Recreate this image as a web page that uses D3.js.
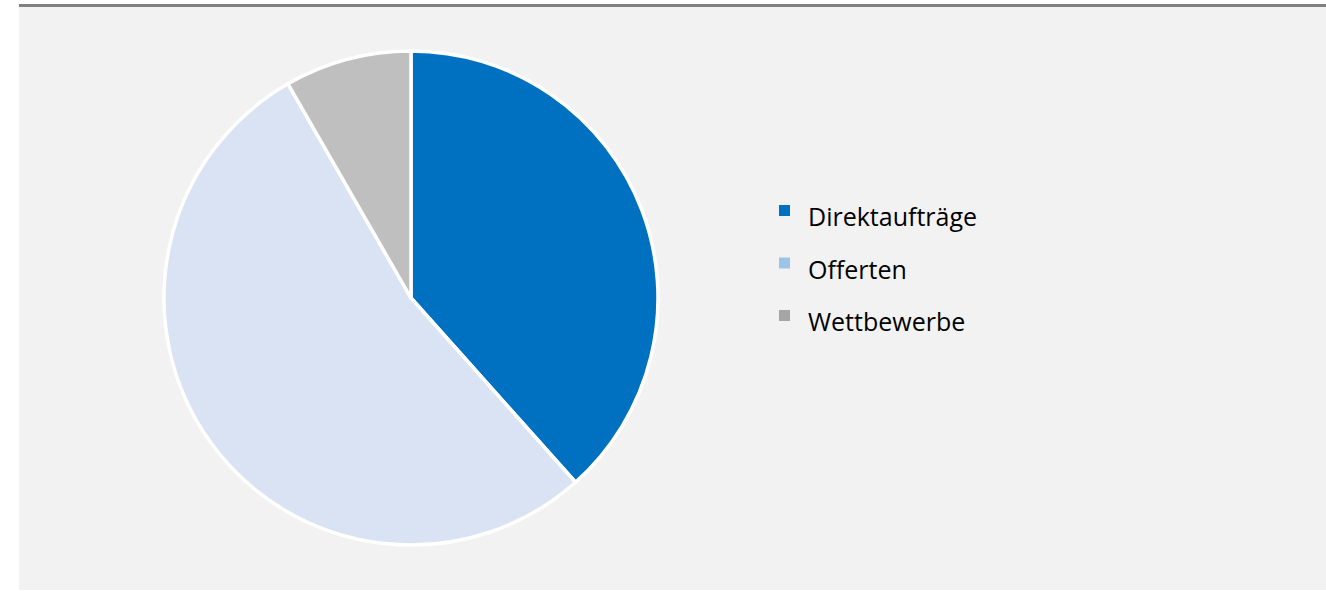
<!DOCTYPE html>
<html lang="de">
<head>
<meta charset="UTF-8">
<script src="https://d3js.org/d3.v7.min.js"></script>
<title>Vergabearten</title>
<style>
  body { margin: 0; background: #fff; }
  svg { display: block; }
</style>
</head>
<body>
<div id="chart"></div>
<script>
  // data
  var categories = ["Direktaufträge", "Offerten", "Wettbewerbe"];
  var shares = [38.4, 53.3, 8.3];
  var sliceColors = ["#0070c0", "#dae3f3", "#bfbfbf"];
  var legendColors = ["#0070c0", "#9dc3e6", "#a5a5a5"];

  var width = 1326, height = 591;

  var svg = d3.select("#chart").append("svg")
      .attr("width", width).attr("height", height);

  // panel + top rule
  svg.append("rect").attr("x", 19).attr("y", 4).attr("width", width - 19).attr("height", height - 5)
      .attr("fill", "#f2f2f2");
  svg.append("rect").attr("x", 19).attr("y", 4).attr("width", width - 19).attr("height", 3)
      .attr("fill", "#808080");

  var cx = 411, cy = 298, r = 247;

  var pie = d3.pie().sort(null).value(function(d) { return d; });
  var arc = d3.arc().innerRadius(0).outerRadius(r);

  var g = svg.append("g").attr("transform", "translate(" + cx + "," + cy + ")");
  g.selectAll("path").data(pie(shares)).enter().append("path")
      .attr("d", arc)
      .attr("fill", function(d, i) { return sliceColors[i]; })
      .attr("stroke", "#fff")
      .attr("stroke-width", 3.5)
      .attr("stroke-linejoin", "round");

  // legend
  var legend = svg.append("g").attr("transform", "translate(779,205)");
  var rows = legend.selectAll("g").data(categories).enter().append("g")
      .attr("transform", function(d, i) { return "translate(0," + (i * 52.5) + ")"; });
  rows.append("rect").attr("width", 11).attr("height", 11)
      .attr("fill", function(d, i) { return legendColors[i]; });
  rows.append("text").attr("x", 29).attr("y", 21)
      .attr("font-family", "Open Sans, sans-serif").attr("font-size", 25)
      .attr("fill", "#000")
      .text(function(d) { return d; });
</script>
</body>
</html>
